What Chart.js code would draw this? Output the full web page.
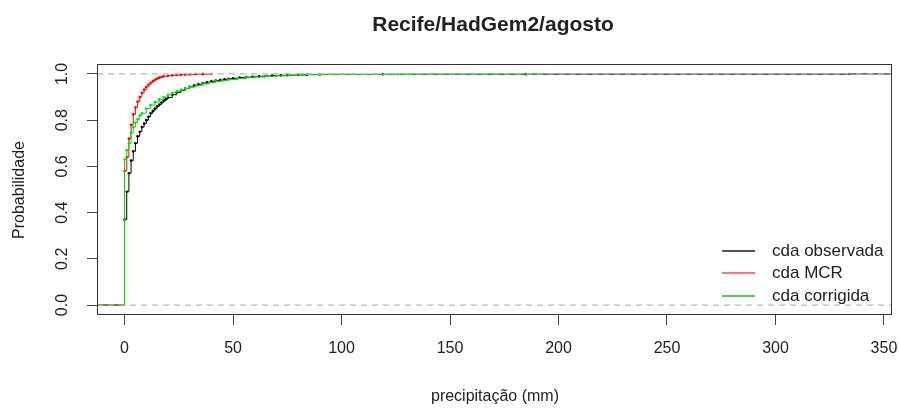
<!DOCTYPE html>
<html>
<head>
<meta charset="utf-8">
<script src="https://cdn.jsdelivr.net/npm/chart.js@4.4.1/dist/chart.umd.min.js"></script>
<style>
  html, body { margin: 0; padding: 0; background: #fff; }
  #wrap { width: 899px; height: 408px; }
</style>
</head>
<body>
<div id="wrap"><canvas id="chart" width="899" height="408"></canvas></div>
<script>
// chart text
const chartTitle = "Recife/HadGem2/agosto";
const xTitle = "precipitação (mm)";
const yTitle = "Probabilidade";
const seriesNames = ["cda observada", "cda MCR", "cda corrigida"];

// axis ticks / limits
const xTicks = [0, 50, 100, 150, 200, 250, 300, 350];
const yTicks = [0, 0.2, 0.4, 0.6, 0.8, 1.0];
const xLimits = [-12.7, 353.7];
const yLimits = [-0.043, 1.043];

// ecdf jumps, observed (black)
const obsX = [0, 1, 2, 3, 4, 5, 6, 7, 8, 9, 10, 11, 12, 13, 14, 15, 16, 17, 18, 19, 20, 22, 24, 26, 28, 30, 32, 34, 36, 38, 40, 42, 44, 46, 48, 50, 53, 56, 59, 62, 65, 68, 72, 75, 80, 84, 90, 119, 185, 334];
const obsP = [0.37, 0.49, 0.57, 0.625, 0.665, 0.70, 0.73, 0.75, 0.77, 0.785, 0.80, 0.815, 0.83, 0.84, 0.85, 0.86, 0.868, 0.876, 0.884, 0.891, 0.898, 0.91, 0.92, 0.929, 0.937, 0.944, 0.95, 0.955, 0.96, 0.964, 0.968, 0.971, 0.974, 0.977, 0.979, 0.981, 0.984, 0.986, 0.988, 0.99, 0.991, 0.993, 0.994, 0.995, 0.996, 0.997, 0.998, 0.9985, 0.999, 1.0];

// ecdf jumps, model MCR (red)
const mcrX = [0, 1, 2, 3, 4, 5, 6, 7, 8, 9, 10, 11, 12, 13, 14, 15, 16, 17, 18, 20, 22, 24, 26, 28, 30, 33, 36, 40];
const mcrP = [0.58, 0.64, 0.72, 0.78, 0.825, 0.855, 0.88, 0.90, 0.918, 0.932, 0.944, 0.954, 0.962, 0.969, 0.975, 0.98, 0.984, 0.987, 0.99, 0.992, 0.994, 0.995, 0.996, 0.997, 0.998, 0.9985, 0.999, 1.0];

// ecdf jumps, corrected (green)
const corX = [0, 1, 2, 3, 4, 5, 6, 7, 8, 10, 12, 14, 16, 18, 20, 22, 24, 26, 28, 30, 33, 36, 39, 42, 45, 48, 52, 56, 60, 65, 70, 76, 82, 90, 126, 131, 165, 191];
const corP = [0.63, 0.67, 0.70, 0.745, 0.77, 0.79, 0.805, 0.82, 0.83, 0.85, 0.865, 0.878, 0.89, 0.90, 0.91, 0.918, 0.925, 0.931, 0.937, 0.944, 0.951, 0.957, 0.963, 0.968, 0.972, 0.976, 0.98, 0.984, 0.987, 0.99, 0.992, 0.995, 0.997, 0.998, 0.9985, 0.999, 0.9995, 1.0];

const colors = ["#000000", "#ff0000", "#00e000"];
const legendColors = ["#555555", "#ff7777", "#44dd44"];

// step function: flat 0 from left edge, jump at each knot
function ecdfPoints(xs, ps, extendRight) {
  const pts = [{ x: xLimits[0], y: 0 }];
  xs.forEach((x, i) => pts.push({ x: x, y: ps[i] }));
  if (extendRight) pts.push({ x: xLimits[1], y: ps[ps.length - 1] });
  return pts;
}

function ecdfDataset(label, xs, ps, color, order, extendRight) {
  const data = ecdfPoints(xs, ps, extendRight);
  return {
    label: label,
    data: data,
    showLine: true,
    stepped: "before",
    borderColor: color,
    backgroundColor: color,
    borderWidth: 1,
    pointRadius: data.map((p, i) => (i === 0 || (extendRight && i === data.length - 1)) ? 0 : 1.3),
    pointBorderWidth: 0,
    order: order,
  };
}

function refLine(yv) {
  return {
    label: "ref" + yv,
    data: [{ x: xLimits[0], y: yv }, { x: xLimits[1], y: yv }],
    showLine: true,
    borderColor: "#b8b8b8",
    borderWidth: 1.2,
    borderDash: [6, 5],
    pointRadius: 0,
    order: 0,
  };
}

const FONT = "'Liberation Sans', Arial, sans-serif";

const decorPlugin = {
  id: "decor",
  afterDraw(chart) {
    const ctx = chart.ctx;
    const a = chart.chartArea;
    const ys = chart.scales.y;
    ctx.save();

    // box round plot region
    ctx.strokeStyle = "#333";
    ctx.lineWidth = 1;
    ctx.strokeRect(a.left + 0.5, a.top + 0.5, a.right - a.left - 1, a.bottom - a.top - 1);

    ctx.fillStyle = "#222";

    // title
    ctx.font = "bold 21px " + FONT;
    ctx.textAlign = "center";
    ctx.textBaseline = "middle";
    ctx.fillText(chartTitle, 493, 25);

    // x title
    ctx.font = "16px " + FONT;
    ctx.fillText(xTitle, 495, 397);

    // y tick labels, rotated like R
    yTicks.forEach(v => {
      const py = ys.getPixelForValue(v);
      ctx.save();
      ctx.translate(63, py);
      ctx.rotate(-Math.PI / 2);
      ctx.fillText(v.toFixed(1), 0, 0);
      ctx.restore();
    });

    // y title
    ctx.save();
    ctx.translate(20, 190);
    ctx.rotate(-Math.PI / 2);
    ctx.fillText(yTitle, 0, 0);
    ctx.restore();

    // legend
    const ly = [251, 273, 296];
    ctx.font = "17px " + FONT;
    ctx.textAlign = "left";
    seriesNames.forEach((name, i) => {
      ctx.strokeStyle = legendColors[i];
      ctx.lineWidth = 2;
      ctx.beginPath();
      ctx.moveTo(722, ly[i]);
      ctx.lineTo(755, ly[i]);
      ctx.stroke();
      ctx.fillStyle = "#222";
      ctx.fillText(name, 772, ly[i]);
    });

    ctx.restore();
  }
};

new Chart(document.getElementById("chart"), {
  type: "scatter",
  data: {
    datasets: [
      refLine(0),
      refLine(1),
      ecdfDataset(seriesNames[2], corX, corP, colors[2], 1, false),
      ecdfDataset(seriesNames[1], mcrX, mcrP, colors[1], 2, false),
      ecdfDataset(seriesNames[0], obsX, obsP, colors[0], 3, true),
    ],
  },
  options: {
    responsive: false,
    animation: false,
    layout: { padding: { left: 0, right: 7, top: 64, bottom: 0 } },
    plugins: {
      legend: { display: false },
      title: { display: false },
      tooltip: { enabled: false },
    },
    scales: {
      x: {
        type: "linear",
        min: xLimits[0],
        max: xLimits[1],
        afterBuildTicks: (s) => { s.ticks = xTicks.map(v => ({ value: v })); },
        afterFit: (s) => { s.height = 93; s.paddingLeft = 0; s.paddingRight = 0; },
        grid: { display: true, drawOnChartArea: false, drawTicks: true, tickLength: 10, color: "#444" },
        border: { display: false },
        ticks: {
          color: "#222",
          padding: 14,
          maxRotation: 0,
          autoSkip: false,
          font: { family: FONT, size: 16 },
        },
      },
      y: {
        type: "linear",
        min: yLimits[0],
        max: yLimits[1],
        afterBuildTicks: (s) => { s.ticks = yTicks.map(v => ({ value: v })); },
        afterFit: (s) => { s.width = 97; s.paddingTop = 0; s.paddingBottom = 0; },
        grid: { display: true, drawOnChartArea: false, drawTicks: true, tickLength: 10, color: "#444" },
        border: { display: false },
        ticks: { display: false },
      },
    },
  },
  plugins: [decorPlugin],
});
</script>
</body>
</html>
